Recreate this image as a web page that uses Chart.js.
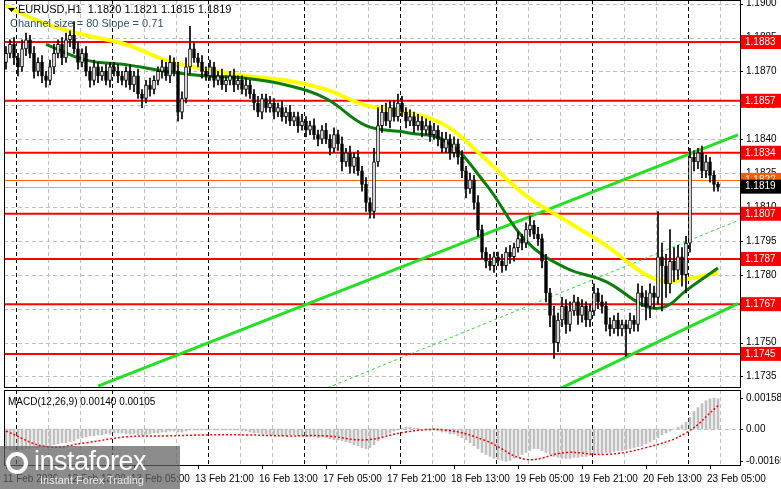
<!DOCTYPE html>
<html>
<head>
<meta charset="utf-8">
<script src="https://cdn.jsdelivr.net/npm/chart.js@4"></script>
<style>
  body { margin: 0; background: #fff; font-family: "Liberation Sans", Arial, sans-serif; }
  #wrap { position: relative; width: 781px; height: 489px; overflow: hidden; }
  #main { position: absolute; left: 0; top: 0; }
  #macd { position: absolute; left: 0; top: 388px; }
  #logo { position: absolute; left: 0; top: 446px; width: 180px; height: 43px; background: rgba(95,95,95,0.72); color: #fff; }
  #logo .big { position: absolute; left: 34px; top: 0px; font-size: 27px; letter-spacing: -0.5px; }
  #logo .small { position: absolute; left: 40px; top: 28px; font-size: 11px; color: #e8e8e8; }
  #logo .gear { position: absolute; left: 6px; top: 6px; width: 22px; height: 22px; border: 4px solid #fff; border-radius: 50%; box-sizing: border-box; }
</style>
</head>
<body>
<div id="wrap">
  <canvas id="main" width="781" height="388"></canvas>
  <canvas id="macd" width="781" height="101"></canvas>
  <div id="logo"><div class="gear"></div><div class="big">instaforex</div><div class="small">Instant Forex Trading</div></div>
</div>
<script>
// hourly closes, EURUSD H1
const closes = [
  1.1878,1.1882,1.1876,1.1872,1.1880,1.1884,1.1878,1.1870,1.1874,1.1868,
  1.1866,1.1872,1.1878,1.1882,1.1876,1.1884,1.1886,1.1880,1.1874,1.1878,
  1.1870,1.1866,1.1872,1.1868,1.1870,1.1866,1.1872,1.1870,1.1868,1.1866,
  1.1870,1.1864,1.1868,1.1860,1.1858,1.1864,1.1862,1.1866,1.1870,1.1872,
  1.1868,1.1874,1.1870,1.1852,1.1858,1.1872,1.1880,1.1876,1.1874,1.1870,
  1.1868,1.1872,1.1866,1.1868,1.1864,1.1866,1.1868,1.1864,1.1866,1.1862,
  1.1864,1.1860,1.1856,1.1852,1.1858,1.1854,1.1856,1.1852,1.1854,1.1850,
  1.1852,1.1848,1.1850,1.1846,1.1848,1.1844,1.1846,1.1842,1.1840,1.1844,
  1.1840,1.1836,1.1842,1.1838,1.1830,1.1834,1.1828,1.1832,1.1826,1.1820,
  1.1812,1.1808,1.1830,1.1846,1.1852,1.1848,1.1854,1.1850,1.1856,1.1852,
  1.1848,1.1850,1.1846,1.1848,1.1844,1.1846,1.1842,1.1844,1.1840,1.1836,
  1.1840,1.1834,1.1838,1.1832,1.1826,1.1818,1.1822,1.1812,1.1800,1.1790,
  1.1786,1.1784,1.1788,1.1786,1.1784,1.1790,1.1788,1.1792,1.1796,1.1794,
  1.1800,1.1802,1.1798,1.1796,1.1786,1.1772,1.1762,1.1750,1.1760,1.1766,
  1.1758,1.1764,1.1768,1.1762,1.1766,1.1760,1.1764,1.1772,1.1768,1.1766,
  1.1758,1.1756,1.1760,1.1756,1.1758,1.1756,1.1760,1.1758,1.1772,1.1770,
  1.1766,1.1772,1.1770,1.1788,1.1784,1.1776,1.1786,1.1782,1.1788,1.1780,
  1.1794,1.1832,1.1830,1.1834,1.1826,1.1830,1.1824,1.1820,1.1819
];
const firstOpen = 1.1874;
// wicks in pips above / below the body
const upWick = [
  3,2,3,2,4,3,2,3,2,3, 2,3,4,2,3,3,2,6,3,2, 3,2,3,2,2,3,2,2,3,2, 2,3,2,3,2,2,3,2,2,3,
  2,3,2,4,3,4,10,3,2,3, 2,3,2,2,3,2,2,3,2,2, 3,2,2,3,2,2,3,2,2,3, 2,3,2,2,3,2,2,3,2,2,
  3,2,3,2,3,2,3,2,3,2, 3,2,6,8,3,4,3,3,4,3, 2,3,2,3,2,3,2,3,2,3, 3,2,3,2,3,2,3,2,3,2,
  2,3,2,2,3,2,3,2,3,2, 3,4,2,3,2,3,2,4,3,4, 3,4,3,2,3,2,3,4,2,3, 2,3,2,3,2,2,3,2,4,3,
  3,4,3,20,6,5,14,6,5,4, 3,4,3,2,3,3,2,2,1
];
const downWick = [
  3,2,3,4,2,3,2,3,2,3, 3,2,3,2,3,2,3,2,3,2, 2,3,2,3,2,2,3,2,3,2, 3,2,3,2,4,2,3,2,2,3,
  2,3,2,4,3,2,3,2,2,3, 2,2,3,2,2,3,2,3,2,2, 3,2,3,2,3,2,2,3,2,2, 3,2,2,3,2,3,2,2,3,2,
  2,3,2,3,4,2,3,3,2,3, 4,3,3,2,3,2,3,2,2,2, 3,2,3,2,3,2,3,2,3,2, 2,3,2,3,3,4,2,3,3,3,
  3,2,3,2,3,2,3,2,2,3, 2,3,2,3,3,4,5,7,4,3, 4,3,2,4,3,3,3,2,3,3, 3,3,2,3,3,12,2,3,3,4,
  6,5,5,3,20,6,4,5,4,5, 8,4,4,3,3,3,3,3,2
];
// moving averages, sampled every 10 bars
const maIdx = [0,10,20,30,40,50,60,70,80,90,100,110,120,130,140,150,160,165,170,178];
const maYellow = [1.1899,1.1891,1.1886,1.1882,1.1875,1.1871,1.1868,1.1866,1.1862,1.1855,1.1852,1.1846,1.1831,1.1815,1.1804,1.1793,1.1780,1.1777,1.1778,1.1781];
const maGreen = [null,1.1882,1.1875,1.1873,1.1870,1.1868,1.1867,1.1864,1.1858,1.1846,1.1843,1.1839,1.1820,1.1795,1.1783,1.1777,1.1766,1.1766,1.1773,1.1783];
// regression channel: [startIndex, startPrice, endIndex, endPrice]
const chanUpper = [23, 1.17307, 183, 1.18419];
const chanLower = [136, 1.17275, 183, 1.17672];
const chanMid = [79, 1.1729, 183, 1.1804];
const levels = [1.1883, 1.1857, 1.1834, 1.1807, 1.1787, 1.1767, 1.1745];
const priceTicks = [1.1735,1.1750,1.1765,1.1780,1.1795,1.1810,1.1825,1.1840,1.1855,1.1870,1.1885,1.1900];
// MACD histogram and signal (x 1e-5)
const macdHist = [
  -100,-105,-110,-110,-105,-100,-100,-95,-95,-90, -90,-85,-80,-75,-70,-70,-65,-60,-50,-45,
  -40,-35,-35,-30,-30,-25,-25,-20,-20,-20, -25,-25,-25,-30,-30,-25,-25,-20,-20,-15,
  -15,-10,-10,-15,-15,-10,-5,-5,-5,-5, -5,-5,-5,-5,-5,-5,-5,-5,-5,-10,
  -10,-15,-20,-20,-25,-25,-30,-30,-30,-35, -35,-30,-30,-35,-35,-40,-40,-40,-45,-40,
  -45,-50,-55,-55,-60,-65,-70,-80,-85,-95, -100,-95,-80,-60,-40,-30,-20,-10,-5,5,
  10,10,5,5,0,0,-5,-5,-10,-15, -15,-25,-25,-35,-45,-55,-70,-85,-100,-120,
  -130,-140,-150,-155,-160,-165,-160,-150,-140,-130, -120,-110,-100,-100,-110,-120,-130,-140,-145,-150,
  -150,-150,-145,-145,-140,-140,-135,-130,-125,-125, -120,-120,-115,-110,-110,-105,-100,-95,-90,-85,
  -75,-65,-55,-45,-30,-20,-10,0,10,20, 35,60,90,110,130,145,155,158,155
];
const sigIdx = [0,10,20,30,40,50,60,70,80,90,100,110,120,130,140,150,160,170,178];
const macdSignal = [-10,-90,-70,-40,-35,-30,-30,-35,-35,-55,-15,-5,-60,-155,-120,-130,-95,-20,120];
const macdTicks = [-0.00165, 0, 0.00158];
const dateLabels = ["11 Feb 2026","12 Feb 13:00","13 Feb 05:00","13 Feb 21:00","16 Feb 13:00","17 Feb 05:00",
  "17 Feb 21:00","18 Feb 13:00","19 Feb 05:00","19 Feb 21:00","20 Feb 13:00","23 Feb 05:00"];

const N = 184;
const labels = Array.from({length: N}, (_, i) => i);
const opens = closes.map((c, i) => i === 0 ? firstOpen : closes[i - 1]);
const bodies = closes.map((c, i) => [opens[i], c]);
const wicks = closes.map((c, i) => [Math.min(opens[i], c) - downWick[i] / 10000, Math.max(opens[i], c) + upWick[i] / 10000]);
const bodyFill = closes.map((c, i) => c >= opens[i] ? "#ffffff" : "#000000");
const sparse = (idx, vals) => { const a = new Array(N).fill(null); idx.forEach((k, j) => a[k] = vals[j]); return a; };
const chan = c => sparse([c[0], c[2]], [c[1], c[3]]);

const fixWidth = s => { s.width = 41; };
const FONT = "10px 'Liberation Sans', Arial";

function drawGrid(chart, yTicks) {
  const {ctx, chartArea: a, scales: {y}} = chart;
  ctx.save();
  ctx.lineWidth = 1;
  ctx.strokeStyle = "#c0c0c0";
  ctx.setLineDash([4, 3]);
  yTicks.forEach(t => { const py = Math.round(y.getPixelForValue(t)) + 0.5; ctx.beginPath(); ctx.moveTo(a.left, py); ctx.lineTo(a.right, py); ctx.stroke(); });
  for (let x = 48; x < a.right; x += 32) {
    if ((x - 16) % 96 === 0) continue;
    ctx.beginPath(); ctx.moveTo(x + 0.5, a.top); ctx.lineTo(x + 0.5, a.bottom); ctx.stroke();
  }
  ctx.strokeStyle = "#000";
  for (let x = 16; x < a.right; x += 96) {
    ctx.beginPath(); ctx.moveTo(x + 0.5, a.top); ctx.lineTo(x + 0.5, a.bottom); ctx.stroke();
  }
  ctx.restore();
}

function drawYLabels(chart, ticks, fmt) {
  const {ctx, chartArea: a, scales: {y}} = chart;
  ctx.save();
  ctx.font = FONT; ctx.fillStyle = "#000"; ctx.textBaseline = "middle";
  ticks.forEach(t => {
    const py = y.getPixelForValue(t);
    ctx.fillRect(a.right, Math.round(py), 3, 1);
    ctx.fillText(fmt(t), a.right + 6, py);
  });
  ctx.restore();
}

const mainDeco = {
  id: "mainDeco",
  beforeDatasetsDraw(chart) {
    drawGrid(chart, priceTicks);
    const {ctx, chartArea: a, scales: {y}} = chart;
    ctx.save();
    [[1.1822, "#ff6a00"], [1.1819, "#b0b0b0"]].forEach(([v, c]) => {
      const py = Math.round(y.getPixelForValue(v)) + 0.5;
      ctx.strokeStyle = c; ctx.lineWidth = 1; ctx.beginPath(); ctx.moveTo(a.left, py); ctx.lineTo(a.right, py); ctx.stroke();
    });
    ctx.strokeStyle = "#ff0000"; ctx.lineWidth = 2;
    levels.forEach(v => { const py = y.getPixelForValue(v); ctx.beginPath(); ctx.moveTo(a.left, py); ctx.lineTo(a.right, py); ctx.stroke(); });
    ctx.restore();
  },
  afterDraw(chart) {
    const {ctx, chartArea: a, scales: {y}} = chart;
    drawYLabels(chart, priceTicks, v => v.toFixed(4));
    ctx.save();
    ctx.strokeStyle = "#000"; ctx.lineWidth = 1;
    ctx.strokeRect(a.left + 0.5, 0.5, a.right - a.left, a.bottom - 1);
    ctx.font = FONT;
    ctx.textBaseline = "middle";
    const box = (v, bg, txt) => {
      const py = y.getPixelForValue(v);
      ctx.fillStyle = bg; ctx.fillRect(a.right + 1, py - 7, 41, 14);
      ctx.fillStyle = "#fff"; ctx.fillText(txt, a.right + 5, py);
    };
    box(1.1822, "#ff5a00", "1.1822");
    levels.forEach(v => box(v, "#ff0000", v.toFixed(4)));
    box(1.1819, "#000", "1.1819");
    ctx.fillStyle = "#000";
    ctx.font = "11px 'Liberation Sans', Arial";
    ctx.beginPath(); ctx.moveTo(8, 8); ctx.lineTo(15, 8); ctx.lineTo(11.5, 12); ctx.closePath(); ctx.fill();
    ctx.fillText("EURUSD,H1  1.1820 1.1821 1.1815 1.1819", 18, 10);
    ctx.fillStyle = "#31506a";
    ctx.fillText("Channel size = 80 Slope = 0.71", 10, 24);
    ctx.restore();
  }
};

new Chart(document.getElementById("main"), {
  type: "bar",
  data: {
    labels,
    datasets: [
      { type: "line", data: sparse(maIdx, maYellow), borderColor: "#ffff00", borderWidth: 4, pointRadius: 0, spanGaps: true, tension: 0.4, order: 3 },
      { type: "line", data: sparse(maIdx, maGreen), borderColor: "#0a7d0a", borderWidth: 3, pointRadius: 0, spanGaps: true, tension: 0.4, order: 2 },
      { type: "line", data: chan(chanUpper), borderColor: "#22e022", borderWidth: 3, pointRadius: 0, spanGaps: true, order: 4 },
      { type: "line", data: chan(chanLower), borderColor: "#22e022", borderWidth: 3, pointRadius: 0, spanGaps: true, order: 4 },
      { type: "line", data: chan(chanMid), borderColor: "#22e022", borderWidth: 1, borderDash: [3, 3], pointRadius: 0, spanGaps: true, order: 4 },
      { data: wicks, backgroundColor: "#000", barThickness: 1, grouped: false, order: 1 },
      { data: bodies, backgroundColor: bodyFill, borderColor: "#000", borderWidth: 1, borderSkipped: false, barThickness: 3, grouped: false, order: 0 }
    ]
  },
  options: {
    responsive: false, animation: false,
    layout: { padding: { left: 4, right: 0, top: 0, bottom: 0 } },
    plugins: { legend: { display: false }, tooltip: { enabled: false } },
    scales: {
      x: { display: false, offset: true, grid: { display: false } },
      y: {
        position: "right", min: 1.17299, max: 1.19016, afterFit: fixWidth,
        grid: { display: false }, border: { display: false },
        ticks: { display: false }
      }
    }
  },
  plugins: [mainDeco]
});

const macdDeco = {
  id: "macdDeco",
  beforeDatasetsDraw(chart) { drawGrid(chart, [0]); },
  afterDraw(chart) {
    const {ctx, chartArea: a, scales: {x}} = chart;
    drawYLabels(chart, macdTicks, v => v === 0 ? "0.00" : v.toFixed(5));
    ctx.save();
    ctx.strokeStyle = "#000"; ctx.lineWidth = 1;
    ctx.strokeRect(a.left + 0.5, a.top + 0.5, a.right - a.left, a.bottom - a.top);
    ctx.font = FONT;
    ctx.fillStyle = "#000"; ctx.textBaseline = "middle";
    ctx.fillText("MACD(12,26,9) 0.00140 0.00105", 8, a.top + 12);
    dateLabels.forEach((t, k) => {
      const px = x.getPixelForValue(k * 16) - 3;
      ctx.beginPath(); ctx.moveTo(px + 3.5, a.bottom); ctx.lineTo(px + 3.5, a.bottom + 4); ctx.stroke();
      ctx.fillText(t, px, a.bottom + 14);
    });
    ctx.restore();
  }
};

new Chart(document.getElementById("macd"), {
  type: "bar",
  data: {
    labels,
    datasets: [
      { type: "line", data: sparse(sigIdx, macdSignal.map(v => v / 100000)), borderColor: "#ff0000", borderWidth: 1.5, borderDash: [2, 2], pointRadius: 0, spanGaps: true, tension: 0.4, order: 0 },
      { data: macdHist.map(v => v / 100000), backgroundColor: "#c0c0c0", barThickness: 2, order: 1 }
    ]
  },
  options: {
    responsive: false, animation: false,
    layout: { padding: { left: 4, right: 0, top: 2, bottom: 24 } },
    plugins: { legend: { display: false }, tooltip: { enabled: false } },
    scales: {
      x: { display: false, offset: true },
      y: {
        position: "right", min: -0.00184, max: 0.0020, afterFit: fixWidth,
        grid: { display: false }, border: { display: false },
        ticks: { display: false }
      }
    }
  },
  plugins: [macdDeco]
});
</script>
</body>
</html>
